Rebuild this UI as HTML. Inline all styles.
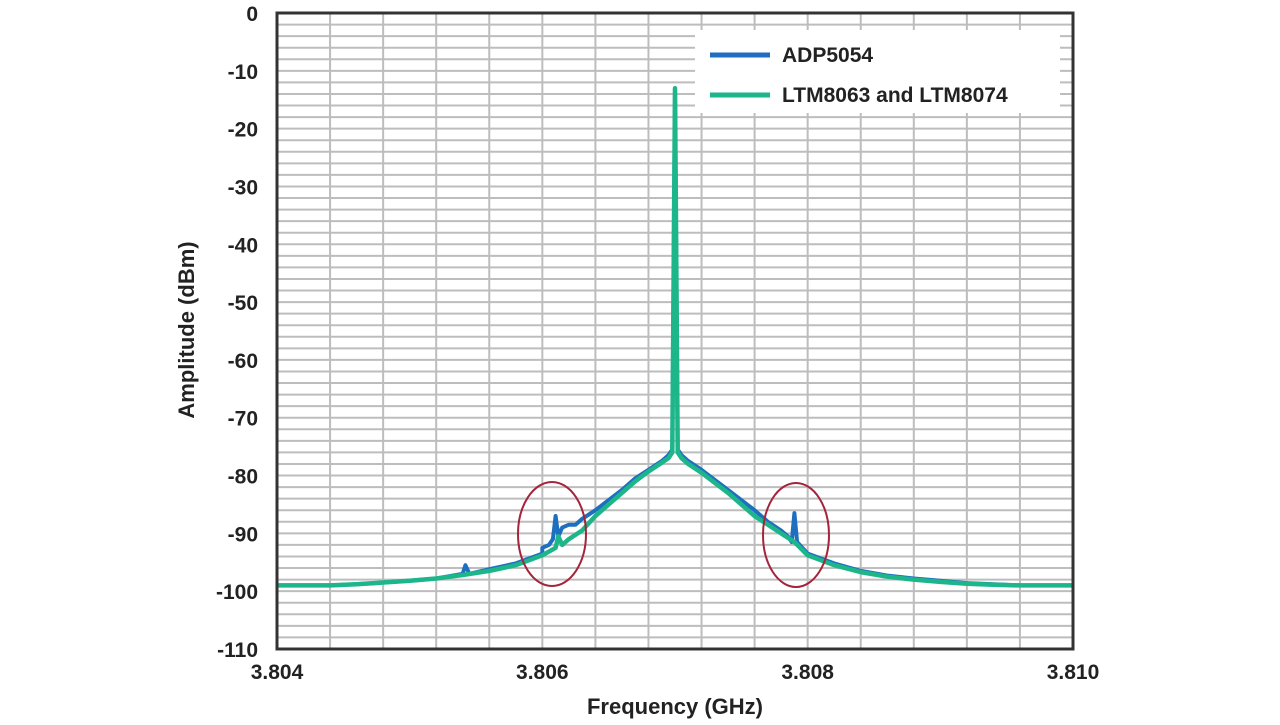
<!DOCTYPE html>
<html><head><meta charset="utf-8"><style>
body{margin:0;background:#fff;width:1280px;height:720px;overflow:hidden;font-family:"Liberation Sans",sans-serif}
svg text{font-family:"Liberation Sans",sans-serif;font-weight:bold;fill:#222}
</style></head><body>
<svg id="chart" width="1280" height="720" xmlns="http://www.w3.org/2000/svg"></svg>
<script>
const xTicks=[3.804,3.806,3.808,3.810];
const yTicks=[0,-10,-20,-30,-40,-50,-60,-70,-80,-90,-100,-110];
const freqAdp=[3.804,3.8042,3.8044,3.8046,3.8048,3.805,3.8052,3.8054,3.80542,3.80545,3.8056,3.8058,3.806,3.8060,3.80605,3.80608,3.8061,3.80612,3.80615,3.8062,3.80625,3.8063,3.8064,3.8066,3.8067,3.8068,3.8069,3.80695,3.80698,3.807,3.80702,3.80705,3.8071,3.8072,3.8074,3.8076,3.8077,3.8078,3.80785,3.80788,3.8079,3.80792,3.808,3.8082,3.8084,3.8086,3.8088,3.809,3.8092,3.8094,3.8096,3.8098,3.81];
const ampAdp=[-99,-99,-99,-98.8,-98.5,-98.2,-97.8,-97,-95.5,-97,-96.2,-95.2,-93.5,-92.5,-92,-91,-87,-90.5,-89,-88.5,-88.5,-87.5,-86,-82.5,-80.5,-79,-77.5,-76.5,-75.5,-13,-75.5,-76.5,-77.5,-79,-82.5,-86,-88,-89.5,-90.5,-91.5,-86.5,-91.5,-93.5,-95.2,-96.5,-97.3,-97.8,-98.2,-98.6,-98.8,-99,-99,-99];
const freqLtm=[3.804,3.8042,3.8044,3.8046,3.8048,3.805,3.8052,3.8054,3.8056,3.8058,3.806,3.8061,3.80612,3.80615,3.8062,3.8063,3.8064,3.8066,3.8067,3.8068,3.8069,3.80695,3.80698,3.807,3.80702,3.80705,3.8071,3.8072,3.8074,3.8076,3.8078,3.8079,3.808,3.8082,3.8084,3.8086,3.8088,3.809,3.8092,3.8094,3.8096,3.8098,3.81];
const ampLtm=[-99,-99,-99,-98.8,-98.5,-98.2,-97.8,-97.2,-96.5,-95.5,-93.8,-92.5,-90.5,-92,-91,-89.5,-87,-83,-81,-79.3,-77.8,-77,-76,-13,-76,-77,-78,-79.5,-83,-87,-90,-91.5,-93.8,-95.5,-96.7,-97.5,-98,-98.4,-98.7,-98.9,-99,-99,-99];
const svg=document.getElementById('chart');
const NS='http://www.w3.org/2000/svg';
const L=277,R=1073,T=13,B=649;
const xs=v=>L+(v-3.804)/0.006*(R-L);
const ys=v=>T+(-v)/110*(B-T);
function mk(tag,attrs,parent){const e=document.createElementNS(NS,tag);for(const k in attrs)e.setAttribute(k,attrs[k]);(parent||svg).appendChild(e);return e;}
const grid=mk('g',{});


for(let i=1;i<55;i++){const y=ys(-2*i);const l=mk('line',{x1:L,x2:R,y1:y,y2:y,stroke:'#bdbdbd','stroke-width':2},grid);}
for(let i=1;i<15;i++){const x=xs(3.804+i*0.0004);const l=mk('line',{x1:x,x2:x,y1:T,y2:B,stroke:'#bdbdbd','stroke-width':2},grid);}
function series(f,a,color,name,w){const p=f.map((v,i)=>(i?'L':'M')+xs(v).toFixed(1)+','+ys(a[i]).toFixed(1)).join('');const e=mk('path',{d:p,fill:'none',stroke:color,'stroke-width':w,'stroke-linejoin':'round'});}
series(freqAdp,ampAdp,'#1f6fc0','series-adp5054',4);
series(freqLtm,ampLtm,'#1db68a','series-ltm8063-ltm8074',4.5);
const frame=mk('rect',{x:L,y:T,width:R-L,height:B-T,fill:'none',stroke:'#333','stroke-width':3});

const c1=mk('ellipse',{cx:552,cy:534,rx:34,ry:52,fill:'none',stroke:'#a4243b','stroke-width':2});

const c2=mk('ellipse',{cx:796,cy:535,rx:33,ry:52,fill:'none',stroke:'#a4243b','stroke-width':2});

yTicks.forEach(v=>{const t=mk('text',{x:258,y:ys(v)+8,'text-anchor':'end','font-size':21});t.textContent=v;});
xTicks.forEach(v=>{const t=mk('text',{x:xs(v),y:679,'text-anchor':'middle','font-size':21});t.textContent=v.toFixed(3);});
const xt=mk('text',{x:675,y:714,'text-anchor':'middle','font-size':22});xt.textContent='Frequency (GHz)';
const yt=mk('text',{x:194,y:330,'text-anchor':'middle','font-size':22,transform:'rotate(-90 194 330)'});yt.textContent='Amplitude (dBm)';
const lg=mk('g',{});
mk('rect',{x:695,y:30,width:365,height:83,fill:'#fff'},lg);
const e1=mk('g',{},lg);
mk('line',{x1:710,x2:770,y1:55,y2:55,stroke:'#1f6fc0','stroke-width':5},e1);
const t1=mk('text',{x:782,y:62,'font-size':21},e1);t1.textContent='ADP5054';
const e2=mk('g',{},lg);
mk('line',{x1:710,x2:770,y1:95,y2:95,stroke:'#1db68a','stroke-width':5},e2);
const t2=mk('text',{x:782,y:102,'font-size':21},e2);t2.textContent='LTM8063 and LTM8074';
</script>
</body></html>
